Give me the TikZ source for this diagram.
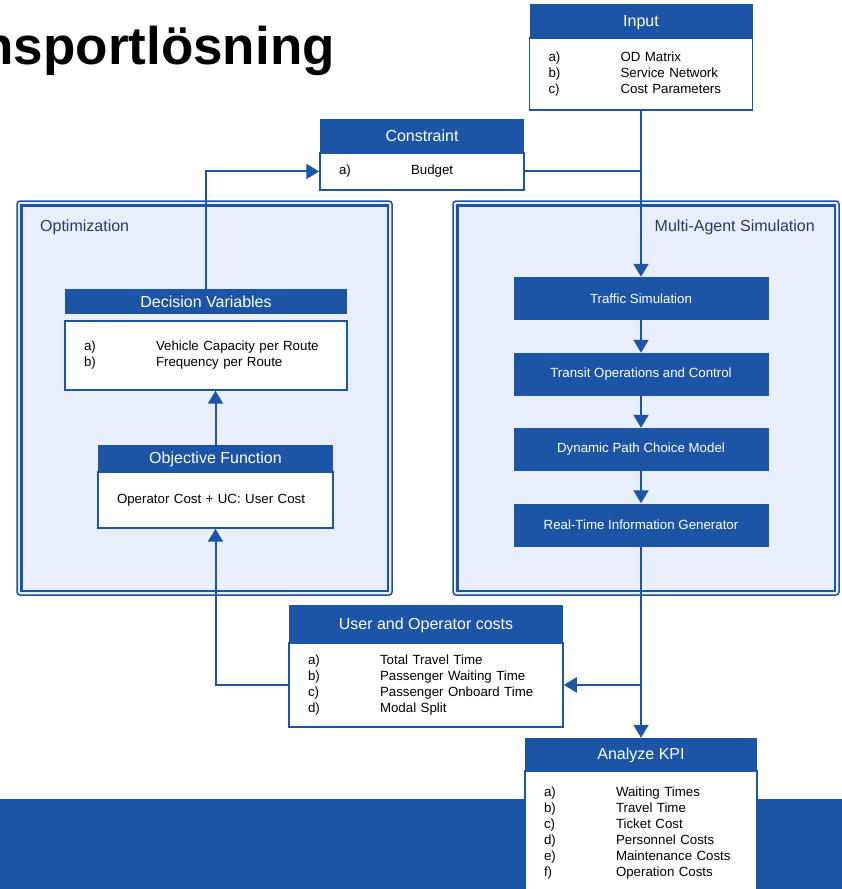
\documentclass[tikz,border=0pt]{standalone}
\usepackage{fontspec}
\setmainfont{Liberation Sans}
\usetikzlibrary{positioning,arrows.meta}
\definecolor{flowblue}{RGB}{28,84,166}
\definecolor{panelfill}{RGB}{233,239,250}
\definecolor{paneltext}{RGB}{30,58,120}
\newcommand{\itemlist}[1]{\begin{tabular}{@{}p{60pt}l@{}}#1\end{tabular}}

\begin{document}
\begin{tikzpicture}[x=1pt,y=-1pt,node distance=0pt,
    head/.style={fill=flowblue,text=white,inner sep=0pt,text height=11.5pt,text depth=0pt,font=\fontsize{16pt}{19pt}\selectfont},
    body/.style={draw=flowblue,line width=1.5pt,fill=white,inner xsep=19pt,inner ysep=0pt,align=left,font=\fontsize{13.3pt}{16pt}\selectfont},
    simbox/.style={fill=flowblue,text=white,minimum width=255pt,minimum height=43pt,inner sep=0pt,font=\fontsize{13.3pt}{16pt}\selectfont},
    panel/.style={draw=flowblue,line width=1.5pt,rounded corners=3pt,fill=panelfill},
    paneltitle/.style={text=paneltext,inner sep=0pt,font=\fontsize{16pt}{19pt}\selectfont},
    flow/.style={draw=flowblue,line width=2pt},
    arr/.style={flow,-{Triangle[width=15pt,length=13pt]}}]
      \useasboundingbox (0,0) rectangle (842,889);
      \node[anchor=base east,inner sep=0pt,font=\fontsize{53pt}{60pt}\selectfont\bfseries] (title) at (335,64) {nsportlösning};
      % the two panels
      \node[panel,minimum width=375pt,minimum height=394pt] (optpanel) at (204.5,398) {};
      \draw[flowblue,line width=2.5pt] ([xshift=5pt,yshift=-5pt]optpanel.north west) rectangle ([xshift=-5pt,yshift=5pt]optpanel.south east);
      \node[panel,minimum width=386pt,minimum height=394pt] (simpanel) at (646,398) {};
      \draw[flowblue,line width=2.5pt] ([xshift=5pt,yshift=-5pt]simpanel.north west) rectangle ([xshift=-5pt,yshift=5pt]simpanel.south east);
      \node[paneltitle,anchor=west] (optlabel) at (40,227) {Optimization};
      \node[paneltitle,anchor=east] (simlabel) at (815,227) {Multi-Agent Simulation};
      \fill[flowblue] (0,799) rectangle (842,889);
      % input and constraint
      \node[head,minimum width=223pt,minimum height=33pt] (inhead) at (641,20.5) {Input};
      \node[body,text width=185pt,minimum height=72pt,below=of inhead] (inbody) {\itemlist{a) & OD Matrix\\ b) & Service Network\\ c) & Cost Parameters}};
      \node[head,minimum width=204pt,minimum height=33pt] (conhead) at (422,135.5) {Constraint};
      \node[body,text width=166pt,minimum height=37pt,below=of conhead] (conbody) {\itemlist{a) & Budget}};
      % optimization
      \node[head,minimum width=282pt,minimum height=25pt] (dvhead) at (206,301.5) {Decision Variables};
      \node[body,text width=244pt,minimum height=69pt,below=6pt of dvhead] (dvbody) {\itemlist{a) & Vehicle Capacity per Route\\ b) & Frequency per Route}};
      \node[head,minimum width=235pt,minimum height=26pt] (ofhead) at (215.5,458) {Objective Function};
      \node[body,text width=197pt,minimum height=56pt,below=of ofhead] (ofbody) {Operator Cost + UC: User Cost};
      % simulation
      \node[simbox] (traffic) at (641,298.5) {Traffic Simulation};
      \node[simbox] (transit) at (641,374.5) {Transit Operations and Control};
      \node[simbox] (pathchoice) at (641,449.5) {Dynamic Path Choice Model};
      \node[simbox] (realtime) at (641,525) {Real-Time Information Generator};
      % costs and KPI
      \node[head,minimum width=274pt,minimum height=37pt] (uochead) at (426,623.5) {User and Operator costs};
      \node[body,text width=236pt,minimum height=84pt,below=of uochead] (uocbody) {\itemlist{a) & Total Travel Time\\ b) & Passenger Waiting Time\\ c) & Passenger Onboard Time\\ d) & Modal Split}};
      \node[head,minimum width=232pt,minimum height=32pt] (kpihead) at (641,754) {Analyze KPI};
      \node[body,text width=194pt,minimum height=124pt,below=of kpihead] (kpibody) {\itemlist{a) & Waiting Times\\ b) & Travel Time\\ c) & Ticket Cost\\ d) & Personnel Costs\\ e) & Maintenance Costs\\ f) & Operation Costs}};
      % connectors
      \coordinate (cjoin) at (inbody.south |- conbody.east);
      \coordinate (kjoin) at (realtime.south |- uocbody.east);
      \draw[arr] (inbody.south) -- (traffic.north);
      \draw[flow] (conbody.east) -- (cjoin);
      \draw[arr] (dvhead.north) |- (conbody.west);
      \draw[arr] (ofhead.north) -- (ofhead.north |- dvbody.south);
      \draw[arr] (uocbody.west) -| (ofbody.south);
      \draw[arr] (traffic.south) -- (transit.north);
      \draw[arr] (transit.south) -- (pathchoice.north);
      \draw[arr] (pathchoice.south) -- (realtime.north);
      \draw[arr] (realtime.south) -- (kpihead.north);
      \draw[arr] (kjoin) -- (uocbody.east);
    \end{tikzpicture}
\end{document}
